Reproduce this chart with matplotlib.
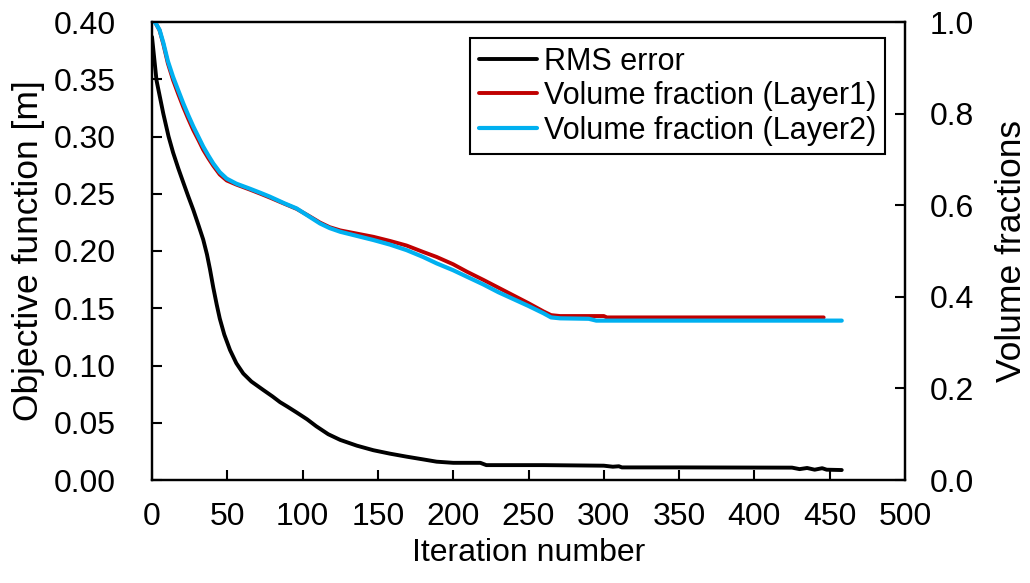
import matplotlib
matplotlib.use("Agg")
import matplotlib.pyplot as plt

# RMS error of the objective function [m]
rms_iter = [0, 3, 7.5, 11, 14, 17.5, 21, 24, 27.4, 31, 34, 36.5, 38.5, 40.7, 43,
            45, 48, 51.8, 56, 60.6, 66, 73.9, 80, 85, 90, 96, 103, 109, 117, 125,
            136, 147, 158, 169, 180, 189, 200, 218, 222, 260, 300, 306, 310, 312,
            350, 425, 430, 435, 440, 445, 448, 458]
rms_val = [0.387, 0.349, 0.320, 0.300, 0.286, 0.272, 0.259, 0.248, 0.236, 0.222,
           0.210, 0.197, 0.184, 0.168, 0.153, 0.141, 0.127, 0.1135, 0.102, 0.093,
           0.086, 0.0786, 0.073, 0.068, 0.064, 0.059, 0.053, 0.047, 0.040, 0.035,
           0.030, 0.026, 0.023, 0.0204, 0.018, 0.016, 0.015, 0.015, 0.013, 0.013,
           0.0125, 0.0116, 0.012, 0.011, 0.011, 0.0108, 0.0095, 0.0105, 0.009,
           0.0103, 0.009, 0.0087]

# volume fraction, layer 1
vf1_iter = [0, 2, 5, 7.5, 10.5, 14, 17.5, 20.8, 24, 27.4, 31, 34, 37.5, 40.7, 45,
            49.6, 56, 65, 72, 78, 88, 96, 104, 111.6, 118, 125, 136, 147, 158, 169,
            180, 189, 200, 209, 220, 230, 240, 250, 260, 265, 271, 300, 302, 446]
vf1_val = [1.0, 1.0, 0.982, 0.952, 0.910, 0.873, 0.842, 0.814, 0.789, 0.764, 0.741,
           0.721, 0.702, 0.686, 0.667, 0.654, 0.645, 0.634, 0.625, 0.617, 0.603,
           0.592, 0.577, 0.562, 0.552, 0.545, 0.538, 0.531, 0.522, 0.512, 0.498,
           0.487, 0.471, 0.455, 0.437, 0.42, 0.403, 0.386, 0.368, 0.36, 0.358,
           0.358, 0.355, 0.355]

# volume fraction, layer 2
vf2_iter = [0, 2, 5, 7.5, 10.5, 14, 17.5, 20.8, 24, 27.4, 31, 34, 37.5, 40.7, 45,
            49.6, 56, 65, 72, 78, 88, 96, 104, 111.6, 118, 125, 136, 147, 158, 169,
            180, 189, 200, 209, 220, 230, 240, 250, 260, 265, 271, 290, 295, 458]
vf2_val = [1.0, 1.0, 0.983, 0.955, 0.915, 0.880, 0.850, 0.822, 0.797, 0.772, 0.748,
           0.728, 0.708, 0.691, 0.672, 0.658, 0.647, 0.636, 0.627, 0.619, 0.604,
           0.593, 0.576, 0.56, 0.55, 0.542, 0.533, 0.524, 0.514, 0.502, 0.487,
           0.473, 0.458, 0.444, 0.427, 0.41, 0.395, 0.38, 0.364, 0.355, 0.353,
           0.352, 0.348, 0.348]

left_ticks = [0.0, 0.05, 0.10, 0.15, 0.20, 0.25, 0.30, 0.35, 0.40]
right_ticks = [0.0, 0.2, 0.4, 0.6, 0.8, 1.0]
x_ticks = list(range(0, 501, 50))

plt.rcParams['font.family'] = ['Liberation Sans', 'DejaVu Sans']

fig, ax = plt.subplots(figsize=(10.3, 5.83), dpi=100)
fig.subplots_adjust(left=152 / 1030, right=905 / 1030,
                    top=1 - 22 / 583, bottom=1 - 480 / 583)
ax2 = ax.twinx()

l0, = ax.plot(rms_iter, rms_val, color='black', lw=2.8, label='RMS error',
              solid_capstyle='round')
l1, = ax2.plot(vf1_iter, vf1_val, color='#C00000', lw=2.8,
               label='Volume fraction (Layer1)', solid_capstyle='round')
l2, = ax2.plot(vf2_iter, vf2_val, color='#00B0F0', lw=3.0,
               label='Volume fraction (Layer2)', solid_capstyle='round')

ax.set_xlim(0, 500)
ax.set_ylim(0, 0.40)
ax2.set_ylim(0, 1.0)
ax.set_xticks(x_ticks)
ax.set_yticks(left_ticks)
ax.set_yticklabels(['%.2f' % t for t in left_ticks])
ax2.set_yticks(right_ticks)
ax2.set_yticklabels(['%.1f' % t for t in right_ticks])

fs = 23
ax.tick_params(axis='x', direction='in', length=7, width=1.5, labelsize=fs, pad=16)
ax.tick_params(axis='y', direction='in', length=7, width=1.5, labelsize=fs, pad=26)
ax2.tick_params(axis='y', direction='in', length=7, width=1.5, labelsize=fs, pad=18)
for a in (ax, ax2):
    for s in a.spines.values():
        s.set_linewidth(1.6)

ax.set_xlabel('Iteration number', fontsize=fs, labelpad=4)
ax.set_ylabel('Objective function [m]', fontsize=25.5, labelpad=6)
ax2.set_ylabel('Volume fractions', fontsize=25.5, labelpad=15)

leg = ax2.legend(handles=[l0, l1, l2], loc='upper right',
                 bbox_to_anchor=(0.973, 0.965), borderaxespad=0,
                 fontsize=22, fancybox=False, framealpha=1,
                 edgecolor='black', handlelength=1.9, handletextpad=0.22,
                 labelspacing=0.15, borderpad=0.28)
leg.get_frame().set_linewidth(1.5)

fig.savefig('out.png', dpi=100)
